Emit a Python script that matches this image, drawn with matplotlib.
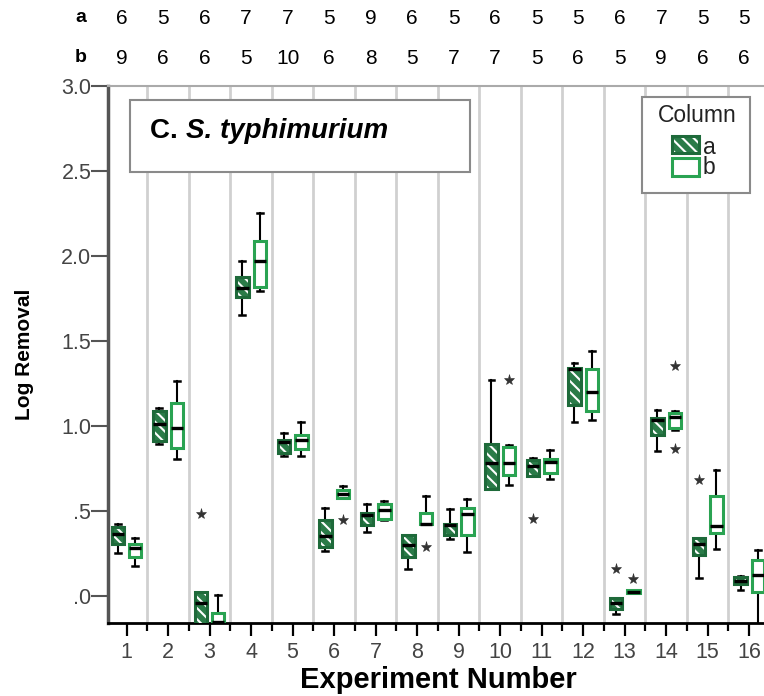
import matplotlib
matplotlib.use("Agg")
import matplotlib.pyplot as plt
from matplotlib import font_manager
from matplotlib.patches import Rectangle, PathPatch
from matplotlib.transforms import blended_transform_factory
import numpy as np

# ---------------- data ----------------
experiments = list(range(1, 17))
n_a = [6, 5, 6, 7, 7, 5, 9, 6, 5, 6, 5, 5, 6, 7, 5, 5]
n_b = [9, 6, 6, 5, 10, 6, 8, 5, 7, 7, 5, 6, 5, 9, 6, 6]

# column a: lower whisker, Q1, median, Q3, upper whisker, extremes
a_low = [0.25, 0.895, -0.22, 1.65, 0.82, 0.265, 0.375, 0.16, 0.335, 0.63, 0.705, 1.025, -0.105, 0.855, 0.105, 0.035]
a_q1 = [0.305, 0.91, -0.17, 1.76, 0.84, 0.29, 0.415, 0.23, 0.355, 0.63, 0.705, 1.12, -0.075, 0.945, 0.24, 0.07]
a_med = [0.365, 1.01, -0.04, 1.81, 0.905, 0.35, 0.475, 0.30, 0.415, 0.78, 0.765, 1.335, -0.045, 1.035, 0.305, 0.09]
a_q3 = [0.405, 1.085, 0.025, 1.875, 0.915, 0.445, 0.485, 0.355, 0.425, 0.895, 0.80, 1.34, -0.015, 1.045, 0.34, 0.11]
a_high = [0.42, 1.105, 0.025, 1.97, 0.96, 0.515, 0.54, 0.36, 0.51, 1.27, 0.81, 1.37, -0.015, 1.095, 0.34, 0.115]
a_extreme = [[], [], [0.48], [], [], [], [], [], [], [], [0.45], [], [0.155], [], [0.68], []]

# column b
b_low = [0.175, 0.805, -0.25, 1.795, 0.82, 0.575, 0.445, 0.42, 0.255, 0.655, 0.685, 1.035, 0.015, 0.975, 0.275, -0.25]
b_q1 = [0.23, 0.87, -0.20, 1.815, 0.865, 0.575, 0.45, 0.42, 0.36, 0.71, 0.725, 1.09, 0.018, 0.985, 0.37, 0.02]
b_med = [0.28, 0.99, -0.155, 1.97, 0.915, 0.60, 0.505, 0.425, 0.48, 0.78, 0.79, 1.20, 0.025, 1.05, 0.41, 0.12]
b_q3 = [0.305, 1.135, -0.10, 2.09, 0.945, 0.625, 0.54, 0.49, 0.515, 0.875, 0.805, 1.335, 0.032, 1.075, 0.59, 0.21]
b_high = [0.34, 1.265, 0.005, 2.255, 1.02, 0.645, 0.56, 0.585, 0.57, 0.89, 0.86, 1.44, 0.035, 1.085, 0.74, 0.27]
b_extreme = [[], [], [], [], [], [0.445], [], [0.29], [], [1.27], [], [], [0.10], [1.35, 0.865], [], []]

yticks = [0.0, 0.5, 1.0, 1.5, 2.0, 2.5, 3.0]
ytick_labels = [".0", ".5", "1.0", "1.5", "2.0", "2.5", "3.0"]

# ---------------- style ----------------
A_FILL = "#2a7b48"
A_EDGE = "#1e6a3a"
B_EDGE = "#2aa352"
GRID = "#d0d0d0"
TICK_TXT = "#444444"
HATCH = "\\\\\\"

installed = {f.name for f in font_manager.fontManager.ttflist}
NARROW = "Liberation Sans Narrow" if "Liberation Sans Narrow" in installed else "Liberation Sans"
plt.rcParams["font.family"] = ["Liberation Sans", "DejaVu Sans"]
plt.rcParams["hatch.linewidth"] = 1.5

W, H = 764, 696
fig = plt.figure(figsize=(W / 100, H / 100), dpi=100)
ax = fig.add_axes([108 / W, (H - 623) / H, (770 - 108) / W, (623 - 86) / H])
ax.set_xlim(0.554, 16.5)
ax.set_ylim(-0.16, 3.0)


def summaries(low, q1, med, q3, high, extreme):
    return [dict(whislo=l, q1=a, med=m, q3=b, whishi=h, fliers=f)
            for l, a, m, b, h, f in zip(low, q1, med, q3, high, extreme)]


off = 0.21
pos_a = [e - off for e in experiments]
pos_b = [e + off for e in experiments]
common = dict(widths=0.3, patch_artist=True, showfliers=True, manage_ticks=False,
              capwidths=0.14,
              medianprops=dict(color="black", linewidth=2.4, solid_capstyle="butt", zorder=4),
              whiskerprops=dict(color="black", linewidth=1.5, zorder=2),
              capprops=dict(color="black", linewidth=1.8, zorder=2),
              flierprops=dict(marker="*", markersize=8, markerfacecolor="#333333",
                              markeredgecolor="#333333", markeredgewidth=0.4, linestyle="none"))

res_a = ax.bxp(summaries(a_low, a_q1, a_med, a_q3, a_high, a_extreme), positions=pos_a,
               boxprops=dict(facecolor=A_FILL, edgecolor="white", hatch=HATCH, linewidth=0, zorder=3),
               **common)
for box in res_a["boxes"]:
    ax.add_patch(PathPatch(box.get_path(), fill=False, edgecolor=A_EDGE, linewidth=2.2, zorder=3.5))

res_b = ax.bxp(summaries(b_low, b_q1, b_med, b_q3, b_high, b_extreme), positions=pos_b,
               boxprops=dict(facecolor="white", edgecolor=B_EDGE, linewidth=2.2, zorder=3),
               **common)

# axes, ticks, separators
ax.set_xticks(experiments)
ax.set_xticklabels([str(e) for e in experiments])
ax.set_xticks(np.arange(1.5, 16.0, 1.0), minor=True)
ax.grid(True, which="minor", axis="x", color=GRID, linewidth=2)
ax.set_axisbelow(True)
ax.tick_params(axis="x", which="major", length=9, width=1.6, color="black",
               labelsize=15.5, labelcolor=TICK_TXT, pad=5)
ax.tick_params(axis="x", which="minor", length=6, width=1.6, color="black")
ax.set_yticks(yticks)
ax.set_yticklabels(ytick_labels)
ax.tick_params(axis="y", length=12, width=1.5, color="#555555", labelsize=15.5,
               labelcolor=TICK_TXT, pad=0)

ax.spines["right"].set_visible(False)
ax.spines["top"].set_color("#aaaaaa")
ax.spines["top"].set_linewidth(1.5)
ax.spines["left"].set_color("#555555")
ax.spines["left"].set_linewidth(2.5)
ax.spines["bottom"].set_color("black")
ax.spines["bottom"].set_linewidth(2)

# panel title box
ax.add_patch(Rectangle(((130 - 108) / 662, (623 - 172) / 537), (470 - 130) / 662, 72 / 537,
                       transform=ax.transAxes, facecolor="white", edgecolor="#8a8a8a",
                       linewidth=1.5, zorder=5))
t1 = ax.text((150 - 108) / 662, (623 - 131) / 537, "C. ", transform=ax.transAxes,
             fontsize=20, fontweight="bold", va="center", ha="left", zorder=6)
fig.canvas.draw()
bb = t1.get_window_extent(fig.canvas.get_renderer())
x_next = ax.transAxes.inverted().transform((bb.x1, bb.y0))[0]
ax.text(x_next, (623 - 131) / 537, "S. typhimurium", transform=ax.transAxes,
        fontsize=20, fontweight="bold", fontstyle="italic", va="center", ha="left", zorder=6)

# legend
ax.add_patch(Rectangle(((642 - 108) / 662, (623 - 193) / 537), (750 - 642) / 662, (193 - 97) / 537,
                       transform=ax.transAxes, facecolor="white", edgecolor="#8a8a8a",
                       linewidth=1.5, zorder=5))
ax.text((697 - 108) / 662, (623 - 116) / 537, "Column", transform=ax.transAxes,
        fontsize=16.5, ha="center", va="center", color="#222222", zorder=6)
ax.add_patch(Rectangle(((672 - 108) / 662, (623 - 153) / 537), 27 / 662, 17 / 537,
                       transform=ax.transAxes, facecolor=A_FILL, edgecolor="white",
                       hatch=HATCH, linewidth=0, zorder=6))
ax.add_patch(Rectangle(((672 - 108) / 662, (623 - 153) / 537), 27 / 662, 17 / 537,
                       transform=ax.transAxes, fill=False, edgecolor=A_EDGE, linewidth=2.2, zorder=6.5))
ax.add_patch(Rectangle(((672 - 108) / 662, (623 - 176) / 537), 27 / 662, 18 / 537,
                       transform=ax.transAxes, facecolor="white", edgecolor=B_EDGE,
                       linewidth=2.2, zorder=6))
ax.text((703 - 108) / 662, (623 - 147) / 537, "a", transform=ax.transAxes,
        fontsize=16.5, ha="left", va="center", color="#222222", zorder=6)
ax.text((703 - 108) / 662, (623 - 168) / 537, "b", transform=ax.transAxes,
        fontsize=16.5, ha="left", va="center", color="#222222", zorder=6)

# sample counts above the plot
top = blended_transform_factory(ax.transData, fig.transFigure)
for row_y, name, counts in [((H - 18) / H, "a", n_a), ((H - 58) / H, "b", n_b)]:
    fig.text(81 / W, row_y, name, fontsize=14, fontweight="bold", ha="center", va="center")
    for e, n in zip(experiments, counts):
        ax.text(e - 0.12, row_y, str(n), transform=top, fontsize=15, family=NARROW,
                ha="center", va="center", clip_on=False)

# axis titles
fig.text(24 / W, (H - 354) / H, "Log Removal", rotation=90, fontsize=15, fontweight="bold",
         family=NARROW, ha="center", va="center")
fig.text(438 / W, (H - 680) / H, "Experiment Number", fontsize=21, fontweight="bold",
         ha="center", va="center")

fig.savefig("out.png", dpi=100)
